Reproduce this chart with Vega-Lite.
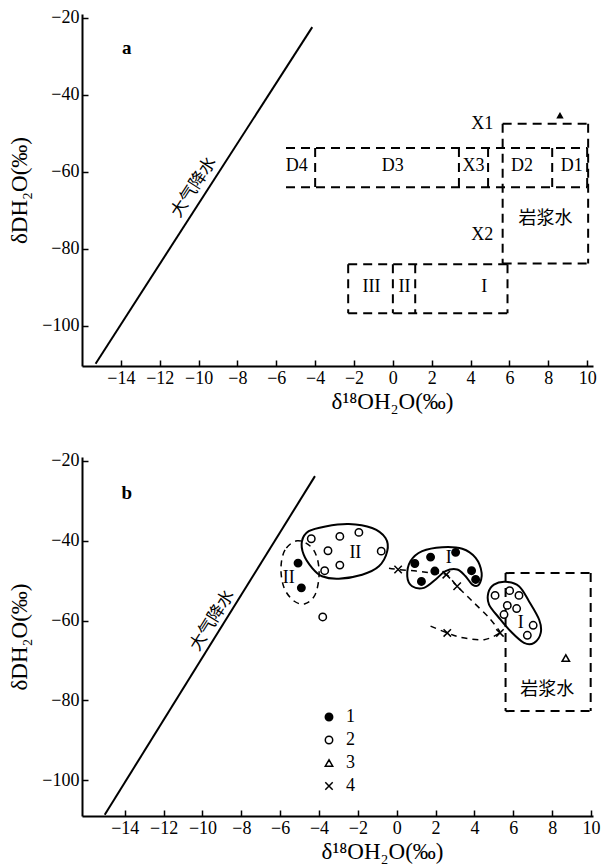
{
  "$schema": "https://vega.github.io/schema/vega-lite/v6.json",
  "background": "white",
  "padding": {"left": 8, "top": 8, "right": 4, "bottom": 2},
  "spacing": 38,
  "config": {
    "view": {"stroke": null},
    "axis": {
      "grid": false,
      "domainColor": "black",
      "domainWidth": 2,
      "tickColor": "black",
      "tickWidth": 1.5,
      "labelFont": "Liberation Serif",
      "labelFontSize": 18,
      "labelColor": "black",
      "titleFont": "Liberation Serif",
      "titleFontSize": 23,
      "titleFontWeight": "normal",
      "titleColor": "black"
    }
  },
  "datasets": {
    "mwlA": [{"x": -15.3, "y": -109.8, "x2": -4.15, "y2": -22.4}],
    "segA": [
      {"x": -5.5, "y": -53.8, "x2": 10.0, "y2": -53.8},
      {"x": -5.5, "y": -64.0, "x2": 10.0, "y2": -64.0},
      {"x": -4.0, "y": -53.8, "x2": -4.0, "y2": -64.0},
      {"x": 3.4, "y": -53.8, "x2": 3.4, "y2": -64.0},
      {"x": 4.9, "y": -53.8, "x2": 4.9, "y2": -64.0},
      {"x": 8.2, "y": -53.8, "x2": 8.2, "y2": -64.0},
      {"x": 10.0, "y": -53.8, "x2": 10.0, "y2": -64.0},
      {"x": 5.65, "y": -47.5, "x2": 10.05, "y2": -47.5},
      {"x": 5.65, "y": -83.8, "x2": 10.05, "y2": -83.8},
      {"x": 5.65, "y": -47.5, "x2": 5.65, "y2": -83.8},
      {"x": 10.05, "y": -47.5, "x2": 10.05, "y2": -83.8},
      {"x": -2.3, "y": -84.0, "x2": 5.9, "y2": -84.0},
      {"x": -2.3, "y": -96.7, "x2": 5.9, "y2": -96.7},
      {"x": -2.3, "y": -84.0, "x2": -2.3, "y2": -96.7},
      {"x": 5.9, "y": -84.0, "x2": 5.9, "y2": -96.7},
      {"x": 0.0, "y": -84.0, "x2": 0.0, "y2": -96.7},
      {"x": 1.15, "y": -84.0, "x2": 1.15, "y2": -96.7}
    ],
    "ptsA": [{"x": 8.6, "y": -45.3}],
    "textA": [
      {"x": -4.95, "y": -58.5, "label": "D4"},
      {"x": 0.0, "y": -58.5, "label": "D3"},
      {"x": 4.15, "y": -58.5, "label": "X3"},
      {"x": 6.65, "y": -58.5, "label": "D2"},
      {"x": 9.2, "y": -58.5, "label": "D1"},
      {"x": 4.6, "y": -47.5, "label": "X1"},
      {"x": 4.6, "y": -76.3, "label": "X2"},
      {"x": -1.1, "y": -90.0, "label": "III"},
      {"x": 0.6, "y": -90.0, "label": "II"},
      {"x": 4.7, "y": -90.0, "label": "I"}
    ],
    "cjkA": [{"x": 7.85, "y": -72.3, "label": "岩浆水"}],
    "mwlLabelA": [{"x": -10.25, "y": -64.0, "label": "大气降水"}],
    "panelA": [{"x": -13.7, "y": -27.7, "label": "a"}],
    "mwlB": [{"x": -15.03, "y": -108.7, "x2": -4.21, "y2": -23.8}],
    "segB": [
      {"x": 5.6, "y": -48.1, "x2": 9.98, "y2": -48.1},
      {"x": 5.6, "y": -82.7, "x2": 9.98, "y2": -82.7},
      {"x": 5.6, "y": -48.1, "x2": 5.6, "y2": -82.7},
      {"x": 9.98, "y": -48.1, "x2": 9.98, "y2": -82.7}
    ],
    "solidB": [
      {"g": "II", "o": 1, "x": -4.88, "y": -40.1},
      {"g": "II", "o": 2, "x": -4.53, "y": -37.6},
      {"g": "II", "o": 3, "x": -3.67, "y": -36.4},
      {"g": "II", "o": 4, "x": -2.47, "y": -35.8},
      {"g": "II", "o": 5, "x": -1.27, "y": -36.8},
      {"g": "II", "o": 6, "x": -0.58, "y": -39.3},
      {"g": "II", "o": 7, "x": -0.49, "y": -42.6},
      {"g": "II", "o": 8, "x": -0.92, "y": -46.4},
      {"g": "II", "o": 9, "x": -1.78, "y": -48.5},
      {"g": "II", "o": 10, "x": -2.98, "y": -49.5},
      {"g": "II", "o": 11, "x": -3.85, "y": -48.9},
      {"g": "II", "o": 12, "x": -4.36, "y": -46.8},
      {"g": "II", "o": 13, "x": -4.79, "y": -43.5},
      {"g": "Ia", "o": 1, "x": 0.54, "y": -48.9},
      {"g": "Ia", "o": 2, "x": 0.71, "y": -45.1},
      {"g": "Ia", "o": 3, "x": 1.31, "y": -42.6},
      {"g": "Ia", "o": 4, "x": 2.34, "y": -41.6},
      {"g": "Ia", "o": 5, "x": 3.37, "y": -42.0},
      {"g": "Ia", "o": 6, "x": 4.06, "y": -44.3},
      {"g": "Ia", "o": 7, "x": 4.37, "y": -48.1},
      {"g": "Ia", "o": 8, "x": 4.23, "y": -51.0},
      {"g": "Ia", "o": 9, "x": 3.89, "y": -51.0},
      {"g": "Ia", "o": 10, "x": 3.54, "y": -48.9},
      {"g": "Ia", "o": 11, "x": 3.11, "y": -47.2},
      {"g": "Ia", "o": 12, "x": 2.51, "y": -47.6},
      {"g": "Ia", "o": 13, "x": 2.0, "y": -49.7},
      {"g": "Ia", "o": 14, "x": 1.40, "y": -51.8},
      {"g": "Ia", "o": 15, "x": 0.79, "y": -51.4},
      {"g": "Ib", "o": 1, "x": 4.71, "y": -53.1},
      {"g": "Ib", "o": 2, "x": 5.0, "y": -51.0},
      {"g": "Ib", "o": 3, "x": 5.60, "y": -50.3},
      {"g": "Ib", "o": 4, "x": 6.29, "y": -51.4},
      {"g": "Ib", "o": 5, "x": 6.81, "y": -55.2},
      {"g": "Ib", "o": 6, "x": 7.33, "y": -59.8},
      {"g": "Ib", "o": 7, "x": 7.41, "y": -63.1},
      {"g": "Ib", "o": 8, "x": 7.07, "y": -65.6},
      {"g": "Ib", "o": 9, "x": 6.55, "y": -65.6},
      {"g": "Ib", "o": 10, "x": 5.86, "y": -62.7},
      {"g": "Ib", "o": 11, "x": 5.26, "y": -59.3},
      {"g": "Ib", "o": 12, "x": 4.75, "y": -56.0}
    ],
    "dashClosedB": [
      {"g": "IId", "o": 1, "x": -5.13, "y": -40.0},
      {"g": "IId", "o": 2, "x": -5.75, "y": -42.3},
      {"g": "IId", "o": 3, "x": -5.96, "y": -46.8},
      {"g": "IId", "o": 4, "x": -5.80, "y": -51.8},
      {"g": "IId", "o": 5, "x": -5.29, "y": -55.1},
      {"g": "IId", "o": 6, "x": -4.72, "y": -55.8},
      {"g": "IId", "o": 7, "x": -4.21, "y": -53.6},
      {"g": "IId", "o": 8, "x": -4.00, "y": -48.8},
      {"g": "IId", "o": 9, "x": -4.10, "y": -44.3},
      {"g": "IId", "o": 10, "x": -4.46, "y": -41.3}
    ],
    "dashOpenB": [
      {"g": "top", "o": 1, "x": -0.4, "y": -46.9},
      {"g": "top", "o": 2, "x": 0.07, "y": -47.2},
      {"g": "top", "o": 3, "x": 1.0, "y": -47.6},
      {"g": "top", "o": 4, "x": 1.8, "y": -48.1},
      {"g": "top", "o": 5, "x": 2.55, "y": -48.5},
      {"g": "top", "o": 6, "x": 3.11, "y": -51.4},
      {"g": "top", "o": 7, "x": 3.9, "y": -55.2},
      {"g": "top", "o": 8, "x": 4.75, "y": -59.3},
      {"g": "top", "o": 9, "x": 5.31, "y": -62.8},
      {"g": "bottom", "o": 1, "x": 1.74, "y": -61.4},
      {"g": "bottom", "o": 2, "x": 2.6, "y": -63.1},
      {"g": "bottom", "o": 3, "x": 3.3, "y": -64.2},
      {"g": "bottom", "o": 4, "x": 4.5, "y": -64.8},
      {"g": "bottom", "o": 5, "x": 5.31, "y": -63.1}
    ],
    "ptsB": [
      {"type": "1", "x": -5.08, "y": -45.6},
      {"type": "1", "x": -4.91, "y": -51.8},
      {"type": "1", "x": 0.93, "y": -45.7},
      {"type": "1", "x": 1.74, "y": -44.1},
      {"type": "1", "x": 3.03, "y": -42.9},
      {"type": "1", "x": 1.96, "y": -47.6},
      {"type": "1", "x": 1.27, "y": -50.2},
      {"type": "1", "x": 3.85, "y": -47.5},
      {"type": "1", "x": 4.06, "y": -49.7},
      {"type": "2", "x": -4.40, "y": -39.5},
      {"type": "2", "x": -2.93, "y": -38.9},
      {"type": "2", "x": -1.95, "y": -37.9},
      {"type": "2", "x": -3.54, "y": -42.5},
      {"type": "2", "x": -2.93, "y": -46.1},
      {"type": "2", "x": -3.71, "y": -47.5},
      {"type": "2", "x": -0.80, "y": -42.6},
      {"type": "2", "x": -3.81, "y": -59.1},
      {"type": "2", "x": 5.06, "y": -53.7},
      {"type": "2", "x": 5.81, "y": -52.5},
      {"type": "2", "x": 6.29, "y": -53.7},
      {"type": "2", "x": 5.69, "y": -56.2},
      {"type": "2", "x": 6.17, "y": -57.0},
      {"type": "2", "x": 5.52, "y": -58.5},
      {"type": "2", "x": 7.02, "y": -61.2},
      {"type": "2", "x": 6.72, "y": -63.7},
      {"type": "3", "x": 8.7, "y": -69.4},
      {"type": "4", "x": 0.07, "y": -47.2},
      {"type": "4", "x": 2.55, "y": -48.5},
      {"type": "4", "x": 3.11, "y": -51.4},
      {"type": "4", "x": 2.60, "y": -63.1},
      {"type": "4", "x": 5.31, "y": -63.1}
    ],
    "textB": [
      {"x": -2.13, "y": -43.1, "label": "II"},
      {"x": -5.56, "y": -49.3, "label": "II"},
      {"x": 2.68, "y": -44.3, "label": "I"},
      {"x": 6.38, "y": -60.6, "label": "I"}
    ],
    "cjkB": [{"x": 7.75, "y": -77.3, "label": "岩浆水"}],
    "mwlLabelB": [{"x": -9.5, "y": -60.0, "label": "大气降水"}],
    "panelB": [{"x": -13.9, "y": -28.0, "label": "b"}]
  },
  "vconcat": [
    {
      "width": 511,
      "height": 352,
      "encoding": {
        "x": {"field": "x", "type": "quantitative",
              "scale": {"domain": [-16.0, 10.3], "nice": false, "zero": false},
              "axis": {"values": [-14, -12, -10, -8, -6, -4, -2, 0, 2, 4, 6, 8, 10], "title": "δ¹⁸OH₂O(‰)", "titlePadding": 3, "titleX": 310, "titleAnchor": "middle", "tickSize": -6, "labelPadding": 9}},
        "y": {"field": "y", "type": "quantitative",
              "scale": {"domain": [-110.4, -19.0], "nice": false, "zero": false},
              "axis": {"values": [-100, -80, -60, -40, -20], "title": "δDH₂O(‰)", "titlePadding": 10, "tickSize": -6, "labelPadding": 9}}
      },
      "layer": [
        {"data": {"name": "mwlA"}, "mark": {"type": "rule", "color": "black", "strokeWidth": 2},
         "encoding": {"x2": {"field": "x2"}, "y2": {"field": "y2"}}},
        {"data": {"name": "segA"}, "mark": {"type": "rule", "color": "black", "strokeWidth": 2, "strokeDash": [9, 6]},
         "encoding": {"x2": {"field": "x2"}, "y2": {"field": "y2"}}},
        {"data": {"name": "ptsA"}, "mark": {"type": "point", "shape": "triangle-up", "filled": true, "color": "black", "size": 55, "opacity": 1}},
        {"data": {"name": "textA"}, "mark": {"type": "text", "font": "Liberation Serif", "fontSize": 18, "color": "black", "baseline": "middle", "align": "center"},
         "encoding": {"text": {"field": "label"}}},
        {"data": {"name": "cjkA"}, "mark": {"type": "text", "font": "Noto Sans CJK SC", "fontSize": 18, "color": "black", "baseline": "middle", "align": "center"},
         "encoding": {"text": {"field": "label"}}},
        {"data": {"name": "mwlLabelA"}, "mark": {"type": "text", "font": "Noto Sans CJK SC", "fontSize": 17, "color": "black", "baseline": "middle", "align": "center", "angle": -57},
         "encoding": {"text": {"field": "label"}}},
        {"data": {"name": "panelA"}, "mark": {"type": "text", "font": "Liberation Serif", "fontSize": 19, "fontWeight": "bold", "color": "black", "baseline": "middle", "align": "center"},
         "encoding": {"text": {"field": "label"}}}
      ]
    },
    {
      "width": 511,
      "height": 359,
      "encoding": {
        "x": {"field": "x", "type": "quantitative",
              "scale": {"domain": [-16.2, 10.1], "nice": false, "zero": false},
              "axis": {"values": [-14, -12, -10, -8, -6, -4, -2, 0, 2, 4, 6, 8, 10], "title": "δ¹⁸OH₂O(‰)", "titlePadding": 3, "titleX": 300, "titleAnchor": "middle", "tickSize": -6, "labelPadding": 9}},
        "y": {"field": "y", "type": "quantitative",
              "scale": {"domain": [-109.0, -19.0], "nice": false, "zero": false},
              "axis": {"values": [-100, -80, -60, -40, -20], "title": "δDH₂O(‰)", "titlePadding": 10, "tickSize": -6, "labelPadding": 9}}
      },
      "layer": [
        {"data": {"name": "mwlB"}, "mark": {"type": "rule", "color": "black", "strokeWidth": 2},
         "encoding": {"x2": {"field": "x2"}, "y2": {"field": "y2"}}},
        {"data": {"name": "segB"}, "mark": {"type": "rule", "color": "black", "strokeWidth": 2, "strokeDash": [9, 6]},
         "encoding": {"x2": {"field": "x2"}, "y2": {"field": "y2"}}},
        {"data": {"name": "solidB"}, "mark": {"type": "line", "color": "black", "strokeWidth": 2, "interpolate": "cardinal-closed"},
         "encoding": {"detail": {"field": "g"}, "order": {"field": "o", "type": "quantitative"}}},
        {"data": {"name": "dashClosedB"}, "mark": {"type": "line", "color": "black", "strokeWidth": 1.5, "strokeDash": [6, 5], "interpolate": "cardinal-closed"},
         "encoding": {"detail": {"field": "g"}, "order": {"field": "o", "type": "quantitative"}}},
        {"data": {"name": "dashOpenB"}, "mark": {"type": "line", "color": "black", "strokeWidth": 1.5, "strokeDash": [6, 5], "interpolate": "cardinal"},
         "encoding": {"detail": {"field": "g"}, "order": {"field": "o", "type": "quantitative"}}},
        {"data": {"name": "ptsB"}, "mark": {"type": "point", "strokeWidth": 1.5, "size": 55, "opacity": 1},
         "encoding": {
           "fill": {"field": "type", "type": "nominal",
                    "scale": {"domain": ["1", "2", "3", "4"], "range": ["black", "white", "white", "white"]},
                    "legend": {"orient": "none", "legendX": 238, "legendY": 251, "title": null, "labelFont": "Liberation Serif", "labelFontSize": 18, "labelColor": "black", "symbolStrokeWidth": 1.5, "symbolSize": 55, "rowPadding": 5, "labelOffset": 8, "padding": 0}},
           "stroke": {"field": "type", "type": "nominal",
                      "scale": {"domain": ["1", "2", "3", "4"], "range": ["black", "black", "black", "black"]},
                      "legend": {"orient": "none", "legendX": 238, "legendY": 251, "title": null, "labelFont": "Liberation Serif", "labelFontSize": 18, "labelColor": "black", "symbolStrokeWidth": 1.5, "symbolSize": 55, "rowPadding": 5, "labelOffset": 8, "padding": 0}},
           "shape": {"field": "type", "type": "nominal",
                     "scale": {"domain": ["1", "2", "3", "4"], "range": ["circle", "circle", "triangle-up", "M-1,-1L1,1M-1,1L1,-1"]},
                     "legend": {"orient": "none", "legendX": 238, "legendY": 251, "title": null, "labelFont": "Liberation Serif", "labelFontSize": 18, "labelColor": "black", "symbolStrokeWidth": 1.5, "symbolSize": 55, "rowPadding": 5, "labelOffset": 8, "padding": 0}}
         }},
        {"data": {"name": "textB"}, "mark": {"type": "text", "font": "Liberation Serif", "fontSize": 18, "color": "black", "baseline": "middle", "align": "center"},
         "encoding": {"text": {"field": "label"}}},
        {"data": {"name": "cjkB"}, "mark": {"type": "text", "font": "Noto Sans CJK SC", "fontSize": 18, "color": "black", "baseline": "middle", "align": "center"},
         "encoding": {"text": {"field": "label"}}},
        {"data": {"name": "mwlLabelB"}, "mark": {"type": "text", "font": "Noto Sans CJK SC", "fontSize": 17, "color": "black", "baseline": "middle", "align": "center", "angle": -58},
         "encoding": {"text": {"field": "label"}}},
        {"data": {"name": "panelB"}, "mark": {"type": "text", "font": "Liberation Serif", "fontSize": 19, "fontWeight": "bold", "color": "black", "baseline": "middle", "align": "center"},
         "encoding": {"text": {"field": "label"}}}
      ]
    }
  ],
  "resolve": {
    "legend": {"fill": "independent", "shape": "independent", "stroke": "independent"},
    "scale": {"fill": "independent", "shape": "independent", "stroke": "independent"}
  }
}
